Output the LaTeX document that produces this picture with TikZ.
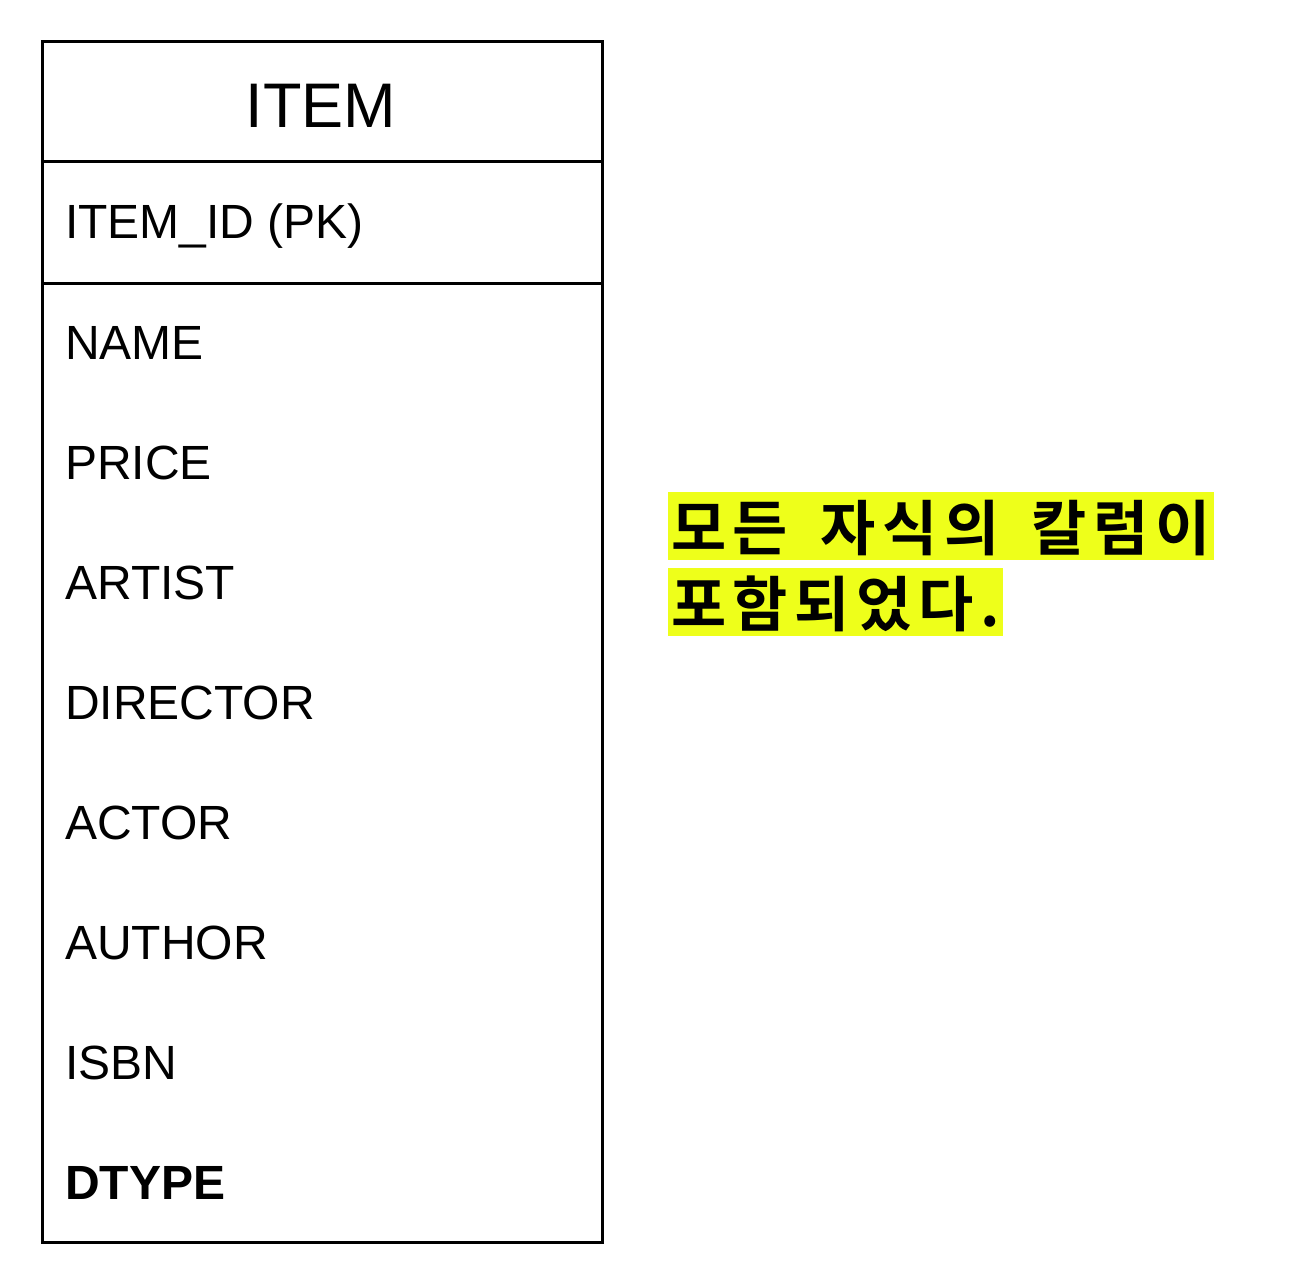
\documentclass[tikz,border=0pt]{standalone}
\usepackage{fontspec}
\setmainfont{Liberation Sans}
\newfontfamily\kr{Noto Sans CJK KR}[BoldFont={* Bold}, WordSpace=1.6, LetterSpace=11]
\definecolor{hlyellow}{HTML}{EEFF1A}
\tikzset{
  tbl/.style={line width=3pt, draw=black},
  field/.style={anchor=base west, inner sep=0pt, font=\fontsize{48}{57}\selectfont},
  title/.style={anchor=base, inner sep=0pt, font=\fontsize{63}{75}\selectfont},
  hl/.style={anchor=north west, fill=hlyellow, inner xsep=3pt, inner ysep=0pt,
    text height=58pt, text depth=10pt, font=\kr\bfseries\fontsize{60}{70}\selectfont}
}
\begin{document}
\begin{tikzpicture}[x=1pt,y=-1pt]
\useasboundingbox (0,0) rectangle (1304,1284);
\draw[tbl] (42,42) rectangle (602,1242);
\coordinate (h1l) at (42,162); \coordinate (h1r) at (602,162);
\coordinate (h2l) at (42,283); \coordinate (h2r) at (602,283);
\draw[tbl] (h1l) -- (h1r);
\draw[tbl] (h2l) -- (h2r);
\node[title] (item) at (321,128) {ITEM};
\node[field] (pk) at (65,239) {ITEM\_ID (PK)};
\node[field] (name) at (65,359) {NAME};
\node[field] (price) at (65,479) {PRICE};
\node[field] (artist) at (65,599) {ARTIST};
\node[field] (director) at (65,719) {DIRECTOR};
\node[field] (actor) at (65,839) {ACTOR};
\node[field] (author) at (65,959) {AUTHOR};
\node[field] (isbn) at (65,1079) {ISBN};
\node[field, font=\bfseries\fontsize{48}{57}\selectfont] (dtype) at (65,1199) {DTYPE};
\node[hl] (l1) at (668,492) {모든 자식의 칼럼이};
\node[hl] (l2) at (668,568) {포함되었다.};
\end{tikzpicture}
\end{document}
